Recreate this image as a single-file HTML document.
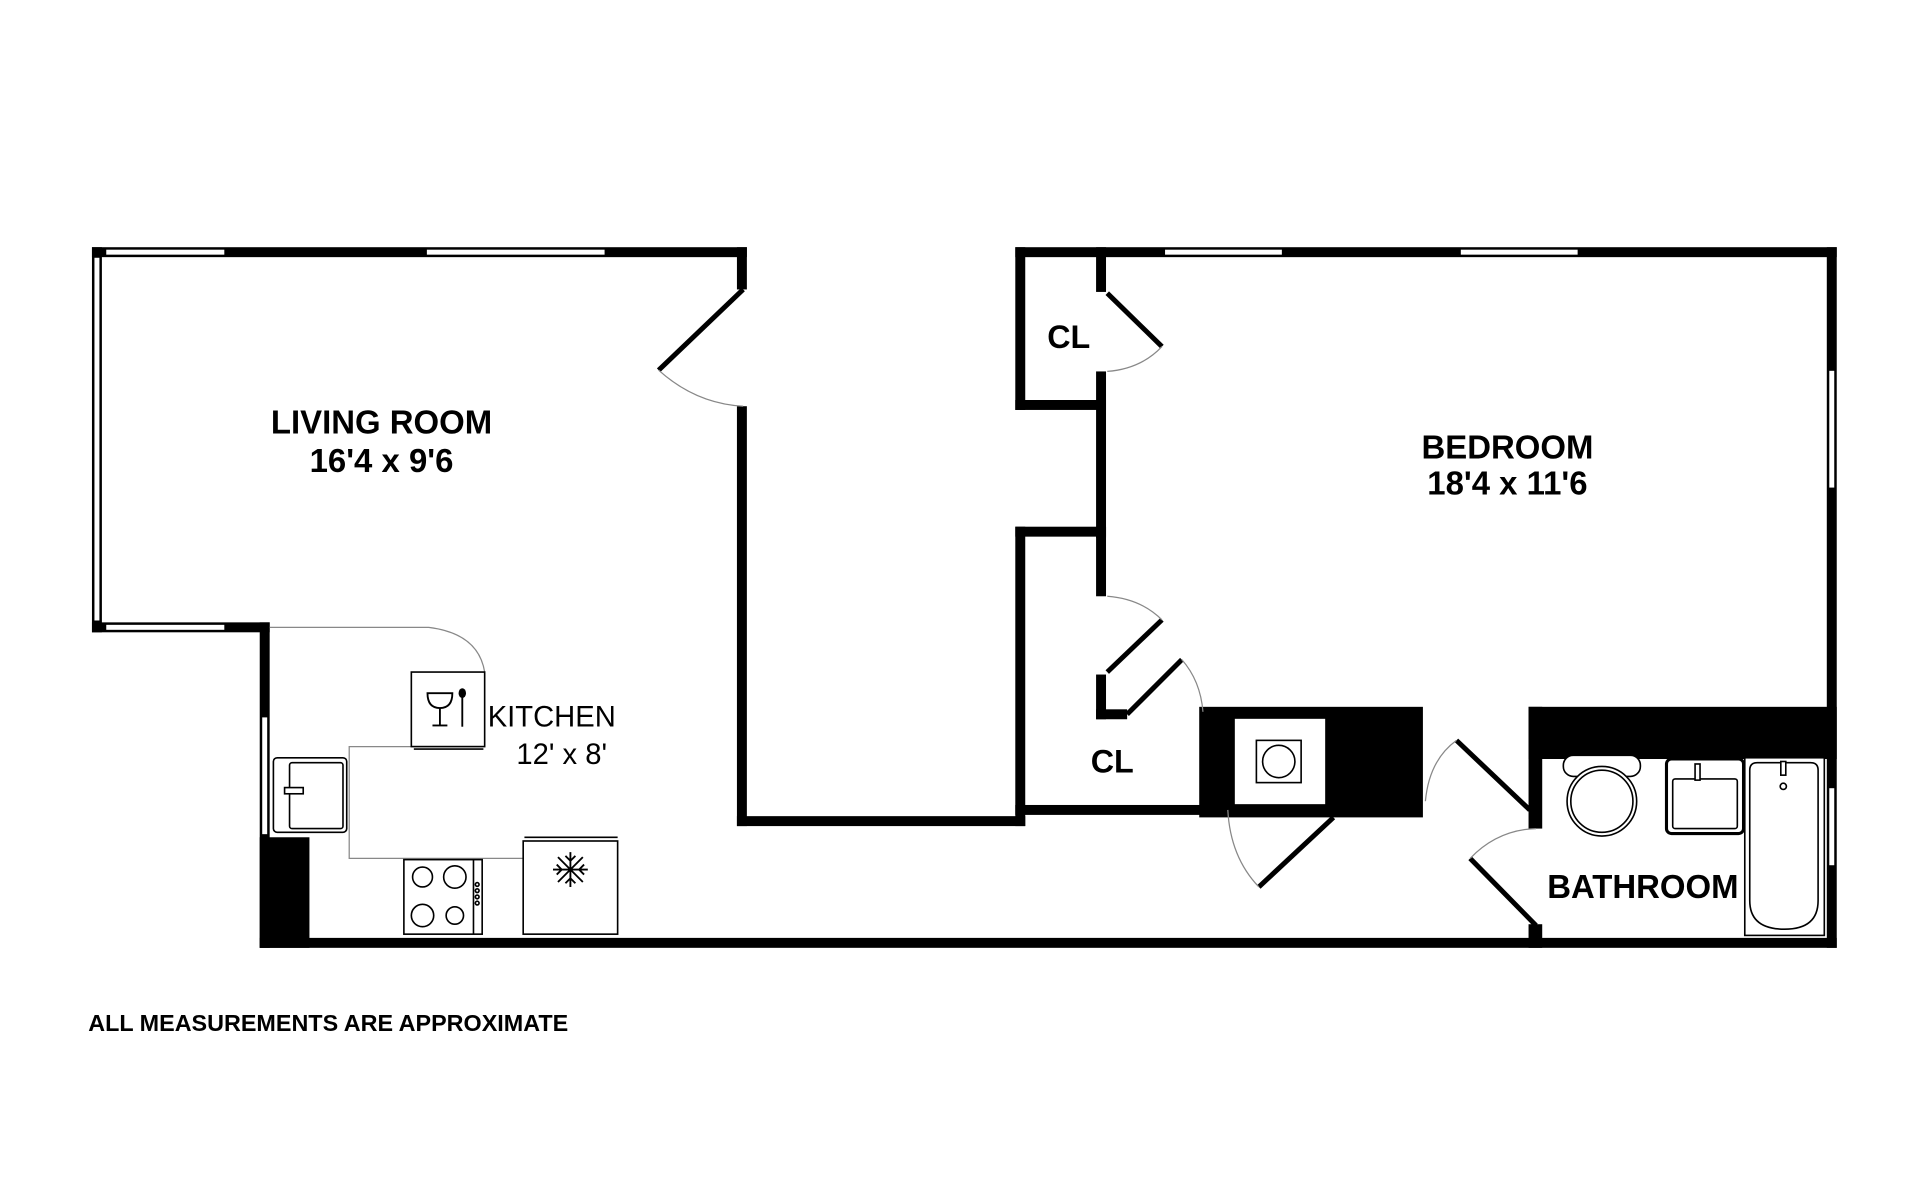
<!DOCTYPE html>
<html><head><meta charset="utf-8"><style>
html,body{margin:0;padding:0;background:#fff;width:1920px;height:1200px;overflow:hidden}
svg{display:block}
text{font-family:"Liberation Sans",Arial,sans-serif;fill:#000}
</style></head><body>
<svg width="1920" height="1200" viewBox="0 0 1545 966" preserveAspectRatio="none" xmlns="http://www.w3.org/2000/svg">
<rect width="1545" height="966" fill="#fff"/>
<g fill="#000">
<rect x="74" y="199" width="527" height="8"/>
<rect x="74" y="199" width="8" height="310"/>
<rect x="74" y="501" width="143" height="8"/>
<rect x="593" y="199" width="8" height="34"/>
<rect x="593" y="327" width="8" height="338"/>
<rect x="593" y="657" width="232" height="8"/>
<rect x="209" y="501" width="8" height="262"/>
<rect x="209" y="674" width="40" height="89"/>
<rect x="209" y="755" width="1269" height="8"/>
<rect x="817" y="199" width="661" height="8"/>
<rect x="817" y="199" width="8" height="131"/>
<rect x="817" y="322" width="73" height="8"/>
<rect x="882" y="199" width="8" height="36"/>
<rect x="882" y="299" width="8" height="134"/>
<rect x="817" y="424" width="73" height="8"/>
<rect x="882" y="424" width="8" height="56"/>
<rect x="817" y="424" width="8" height="241"/>
<rect x="882" y="543" width="8" height="36"/>
<rect x="882" y="571" width="25" height="8"/>
<rect x="817" y="648" width="150" height="8"/>
<rect x="965" y="569" width="180" height="89"/>
<rect x="1470" y="199" width="8" height="564"/>
<rect x="1230" y="569" width="248" height="42"/>
<rect x="1230" y="569" width="11" height="98"/>
<rect x="1230" y="744" width="11" height="19"/>
</g>
<g fill="#fff" stroke="#000" stroke-width="1">
<rect x="85" y="200.5" width="96" height="5"/>
<rect x="343" y="200.5" width="144" height="5"/>
<rect x="75.5" y="207" width="5" height="293"/>
<rect x="85" y="502.5" width="96" height="5"/>
<rect x="210.5" y="577" width="5" height="95"/>
<rect x="937" y="200.5" width="95" height="5"/>
<rect x="1175" y="200.5" width="95" height="5"/>
<rect x="1471.5" y="298" width="5" height="95"/>
<rect x="1471.5" y="634" width="5" height="63"/>
</g>
<g stroke="#000" stroke-width="4" fill="none">
<line x1="598" y1="233" x2="530" y2="298"/>
<line x1="891" y1="236" x2="935" y2="279"/>
<line x1="935" y1="499" x2="891" y2="541"/>
<line x1="951" y1="531" x2="907" y2="575"/>
<line x1="1073" y1="658" x2="1013" y2="714"/>
<line x1="1172" y1="596" x2="1231" y2="652"/>
<line x1="1183" y1="691" x2="1236" y2="745"/>
</g>
<g stroke="#888" stroke-width="1" fill="none">
<path d="M530 298 Q560 325 598 327"/>
<path d="M935 279 Q918 297 891 299"/>
<path d="M891 480 Q918 482 935 499"/>
<path d="M951 531 Q966 548 968 573"/>
<path d="M1013 714 Q990 690 988 652"/>
<path d="M1147 645 Q1150 612 1172 596"/>
<path d="M1183 691 Q1205 668 1236 667"/>
<path d="M217 505 H345 Q385 510 390 541"/>
<path d="M331 601 H281 V691 H421"/>
</g>
<g stroke="#000" fill="#fff" stroke-width="1.3">
<rect x="331" y="541" width="59" height="60"/>
<line x1="333" y1="603" x2="389" y2="603"/>
<rect x="220" y="610" width="59" height="60" rx="3"/>
<rect x="233" y="614" width="43" height="53" rx="2"/>
<rect x="229" y="634" width="15" height="5"/>
<rect x="325" y="692" width="63" height="60"/>
<line x1="381" y1="692" x2="381" y2="752"/>
<circle cx="340" cy="706" r="8"/><circle cx="366" cy="706" r="9"/>
<circle cx="340" cy="737" r="9"/><circle cx="366" cy="737" r="7"/>
<circle cx="384" cy="712" r="1.5"/><circle cx="384" cy="717" r="1.5"/><circle cx="384" cy="722" r="1.5"/><circle cx="384" cy="727" r="1.5"/>
<rect x="421" y="677" width="76" height="75"/>
<line x1="422" y1="674" x2="497" y2="674"/>
<rect x="993" y="578" width="74" height="70"/>
<rect x="1011" y="596" width="36" height="34"/>
<circle cx="1029" cy="613" r="13"/>
<rect x="1258" y="608" width="62" height="17" rx="8"/>
<circle cx="1289" cy="645" r="28"/>
<circle cx="1289" cy="645" r="25"/>
<rect x="1341" y="611" width="62" height="60" rx="4" stroke-width="2.5"/>
<rect x="1346" y="627" width="52" height="40" rx="2"/>
<rect x="1364" y="615" width="4" height="13"/>
<rect x="1404" y="610" width="64" height="143"/>
<path d="M1408 620 Q1408 614 1414 614 H1457 Q1463 614 1463 620 V725 Q1463 748 1436 748 Q1408 748 1408 725 Z"/>
<circle cx="1435" cy="633" r="2.5"/>
<rect x="1433" y="613" width="4" height="11"/>
</g>
<g stroke="#000" stroke-width="1.5" fill="none">
<path d="M344 558 Q344 570 354 570 Q364 570 364 558 Z"/>
<line x1="354" y1="570" x2="354" y2="584"/><line x1="348" y1="584" x2="360" y2="584"/>
<line x1="372" y1="560" x2="372" y2="585"/>
<path d="M445 700 h28 M459 686 v28 M449 690 l20 20 M469 690 l-20 20 M455 689 l4 4 4 -4 M455 711 l4 -4 4 4 M448 696 l4 4 -4 4 M470 696 l-4 4 4 4"/>
</g>
<ellipse cx="372" cy="558" rx="3" ry="4"/>
<g font-weight="bold" text-anchor="middle" font-size="26.5">
<text x="307" y="349">LIVING ROOM</text>
<text x="307" y="380">16'4 x 9'6</text>
<text x="1213" y="369">BEDROOM</text>
<text x="1213" y="398">18'4 x 11'6</text>
<text x="860" y="280" font-size="26">CL</text>
<text x="895" y="622" font-size="26">CL</text>
<text x="1322" y="723">BATHROOM</text>
</g>
<text x="444" y="585" font-size="23.5" text-anchor="middle">KITCHEN</text>
<text x="452" y="615" font-size="23.5" text-anchor="middle">12' x 8'</text>
<text x="71" y="830" font-size="18.8" font-weight="bold">ALL MEASUREMENTS ARE APPROXIMATE</text>
</svg>
</body></html>
